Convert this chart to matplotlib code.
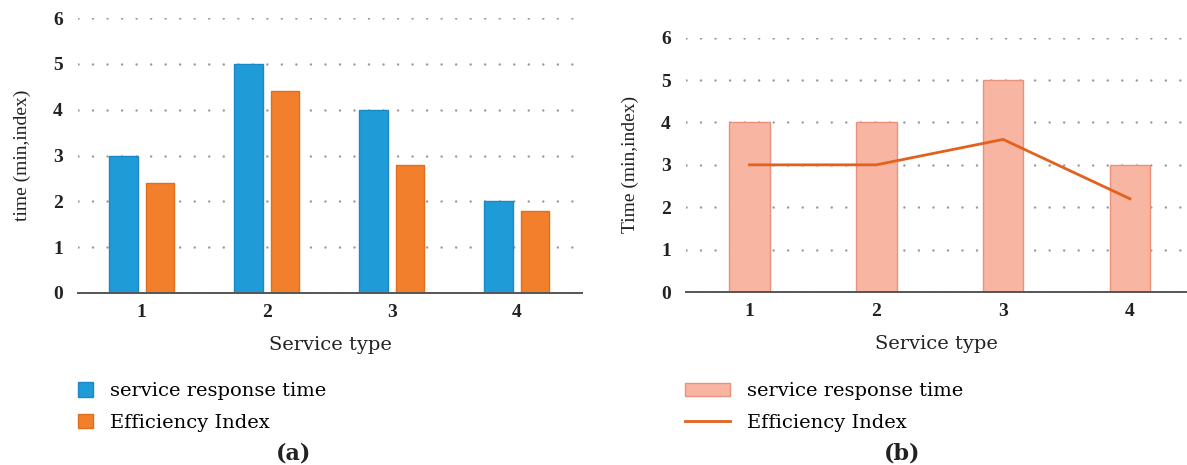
import matplotlib.pyplot as plt
import numpy as np

# data
service_types = [1, 2, 3, 4]
resp_time_a = [3, 5, 4, 2]
eff_index_a = [2.4, 4.4, 2.8, 1.8]
resp_time_b = [4, 4, 5, 3]
eff_index_b = [3, 3, 3.6, 2.2]
y_ticks = [0, 1, 2, 3, 4, 5, 6]

plt.rcParams['font.family'] = ['Liberation Serif', 'DejaVu Serif']
WIDE = 'DejaVu Serif'

BLUE = '#1f9bd7'
ORANGE = '#f27f2b'
PINK = '#f8b5a2'
LINE = '#e2621d'
GRID = '#9a9a9a'
TXT = '#222222'


def style_axes(ax, ylabel, xlim):
    ax.set_ylim(0, 6)
    ax.set_xlim(*xlim)
    ax.set_yticks(y_ticks)
    ax.set_xticks(service_types)
    ax.tick_params(axis='both', length=0, labelsize=14, colors=TXT)
    ax.tick_params(axis='y', pad=11)
    ax.tick_params(axis='x', pad=8)
    for lab in ax.get_xticklabels() + ax.get_yticklabels():
        lab.set_fontfamily('Liberation Serif')
        lab.set_fontweight('bold')
    for s in ['top', 'right', 'left']:
        ax.spines[s].set_visible(False)
    ax.spines['bottom'].set_color('#555555')
    ax.spines['bottom'].set_linewidth(1.4)
    # round grey dots about 15 px apart
    ax.yaxis.grid(True, color=GRID, linestyle=(0, (0.01, 5.8)), linewidth=1.8,
                  dash_capstyle='round')
    ax.set_axisbelow(True)
    ax.set_xlabel('Service type', fontsize=14, family=WIDE, labelpad=11, color=TXT)
    ax.set_ylabel(ylabel, fontsize=14, family='Liberation Serif', labelpad=16, color=TXT)


fig = plt.figure(figsize=(11.87, 4.65), dpi=100)

# (a) grouped bars
ax1 = fig.add_axes([0.0657, 0.370, 0.4246, 0.591])
x = np.array(service_types)
w = 0.23
b1 = ax1.bar(x - 0.145, resp_time_a, w, color=BLUE, edgecolor='#1a88c2', linewidth=1,
             label='service response time')
b2 = ax1.bar(x + 0.145, eff_index_a, w, color=ORANGE, edgecolor='#e06e1c', linewidth=1,
             label='Efficiency Index')
style_axes(ax1, 'time (min,index)', (0.49, 4.52))

leg_font = {'family': WIDE, 'size': 14}
fig.legend(handles=[b1, b2], loc='upper left', bbox_to_anchor=(0.0657, 0.178),
           frameon=False, prop=leg_font, handlelength=0.75, handleheight=0.75,
           handletextpad=0.9, labelspacing=0.7, borderpad=0, borderaxespad=0)

# (b) bars with line
ax2 = fig.add_axes([0.578, 0.372, 0.422, 0.547])
b3 = ax2.bar(x, resp_time_b, 0.32, color=PINK, edgecolor='#e8927d', linewidth=1,
             label='service response time')
l1, = ax2.plot(x, eff_index_b, color=LINE, linewidth=2, label='Efficiency Index')
style_axes(ax2, 'Time (min,index)', (0.5, 4.45))

fig.legend(handles=[b3, l1], loc='upper left', bbox_to_anchor=(0.577, 0.178),
           frameon=False, prop=leg_font, handlelength=2.3, handleheight=0.65,
           handletextpad=0.9, labelspacing=0.7, borderpad=0, borderaxespad=0)

fig.text(0.247, 0.012, '(a)', fontsize=16, family=WIDE, fontweight='bold', ha='center', color=TXT)
fig.text(0.760, 0.012, '(b)', fontsize=16, family=WIDE, fontweight='bold', ha='center', color=TXT)

fig.savefig('out.png', dpi=100)
